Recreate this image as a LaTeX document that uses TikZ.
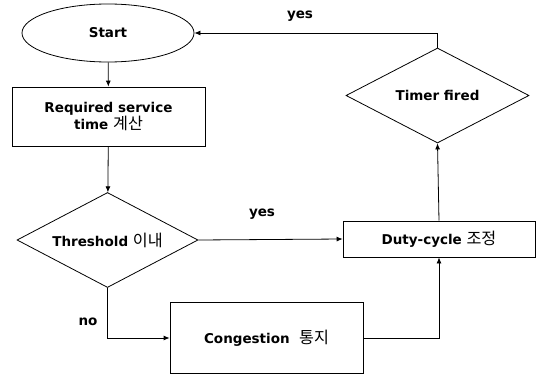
\documentclass[tikz,border=0pt]{standalone}
\usepackage{fontspec}
\setmainfont{DejaVu Sans}
\newfontfamily\kr{Noto Sans CJK KR}[Scale=1.2]
\newcommand\ko[1]{{\kr\mdseries #1}}
\usetikzlibrary{shapes.geometric,arrows.meta}
\begin{document}
\begin{tikzpicture}[x=1pt,y=-1pt,
  every node/.style={inner sep=0pt,font=\fontsize{13.5}{16}\selectfont\bfseries,text=black},
  box/.style={draw,line width=0.8pt,rectangle,align=center},
  oval/.style={draw,line width=0.8pt,ellipse},
  decide/.style={draw,line width=0.8pt,diamond,aspect=1.9},
  conn/.style={line width=0.8pt,-{Latex[length=6pt,width=5pt]}},
  lbl/.style={font=\fontsize{13.5}{16}\selectfont\bfseries}]
\useasboundingbox (0,0) rectangle (536,375);
\node[oval,minimum width=172pt,minimum height=58pt] (start) at (108,33) {Start};
\node[box,minimum width=193pt,minimum height=59pt] (req) at (108.5,116.5) {Required service\\time \ko{계산}};
\node[decide,minimum width=181pt,minimum height=95pt] (thr) at (107.5,240) {Threshold \ko{이내}};
\node[box,minimum width=192pt,minimum height=36pt] (duty) at (439,239) {Duty-cycle \ko{조정}};
\node[box,minimum width=193pt,minimum height=71pt] (cong) at (266.5,338) {Congestion\ \ \ko{통지}};
\node[decide,minimum width=183pt,minimum height=95pt] (timer) at (437.5,95.5) {Timer fired};
\node[lbl] (yes1) at (262,214) {yes};
\node[lbl] (no1) at (88,322) {no};
\node[lbl] (yes2) at (300,16) {yes};
\draw[conn] (start) -- (req);
\draw[conn] (req) -- (thr);
\draw[conn] (thr.east) -- (duty.west);
\draw[conn] (thr.south) |- (cong.west);
\draw[conn] (cong.east) -| (duty.south);
\draw[conn] (duty.north) -- (timer.south);
\draw[conn] (timer.north) |- (start.east);
\end{tikzpicture}
\end{document}
